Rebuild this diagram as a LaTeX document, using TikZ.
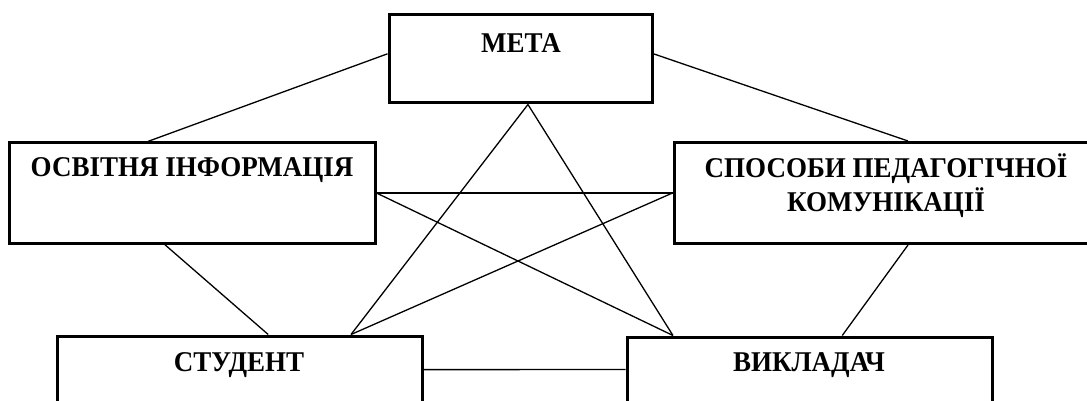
\documentclass[tikz,border=0pt]{standalone}
\usepackage{fontspec}
\setmainfont{Liberation Serif}
\usetikzlibrary{calc}
\tikzset{
  box/.style={draw, line width=3pt, rectangle, inner sep=0pt},
  lbl/.style={font=\fontsize{27}{32}\selectfont\bfseries, align=center, inner sep=0pt, yscale=1.06},
  link/.style={line width=1.3pt}
}
\begin{document}
\begin{tikzpicture}[x=1pt, y=-1pt]
  \useasboundingbox (0,0) rectangle (1087,401);
  \clip (0,0) rectangle (1087,401);

  % boxes
  \node[box, minimum width=263pt, minimum height=88pt] (meta) at (520.5,59) {};
  \node[box, minimum width=366pt, minimum height=100pt] (osv) at (192,193) {};
  \node[box, minimum width=426pt, minimum height=101pt] (spos) at (887,193) {};
  \node[box, minimum width=365pt, minimum height=94pt] (stud) at (239.5,383) {};
  \node[box, minimum width=365pt, minimum height=93pt] (vykl) at (809.5,383.5) {};

  % captions
  \node[lbl] (metat) at (521,43) {МЕТА};
  \node[lbl] (osvt) at (192,170) {ОСВІТНЯ ІНФОРМАЦІЯ};
  \node[lbl] (spost) at (886,186) {СПОСОБИ ПЕДАГОГІЧНОЇ\\КОМУНІКАЦІЇ};
  \node[lbl] (studt) at (239,365) {СТУДЕНТ};
  \node[lbl] (vyklt) at (809,365) {ВИКЛАДАЧ};

  % connections
  \draw[link] ($(meta.north west)!0.443!(meta.south west)$) -- ($(osv.north west)!0.38!(osv.north east)$);
  \draw[link] ($(meta.north east)!0.443!(meta.south east)$) -- ($(spos.north west)!0.549!(spos.north east)$);
  \draw[link] ($(meta.south west)!0.528!(meta.south east)$) -- ($(stud.north west)!0.803!(stud.north east)$);
  \draw[link] ($(meta.south west)!0.528!(meta.south east)$) -- ($(vykl.north west)!0.129!(vykl.north east)$);
  \draw[link] (osv.east) -- (spos.west);
  \draw[link] (osv.east) -- ($(vykl.north west)!0.129!(vykl.north east)$);
  \draw[link] (spos.west) -- ($(stud.north west)!0.803!(stud.north east)$);
  \draw[link] ($(osv.south west)!0.426!(osv.south east)$) -- ($(stud.north west)!0.578!(stud.north east)$);
  \draw[link] ($(spos.south west)!0.549!(spos.south east)$) -- ($(vykl.north west)!0.589!(vykl.north east)$);
  \draw[link] ($(stud.north east)!0.362!(stud.south east)$) -- ($(vykl.north west)!0.355!(vykl.south west)$);
\end{tikzpicture}
\end{document}
